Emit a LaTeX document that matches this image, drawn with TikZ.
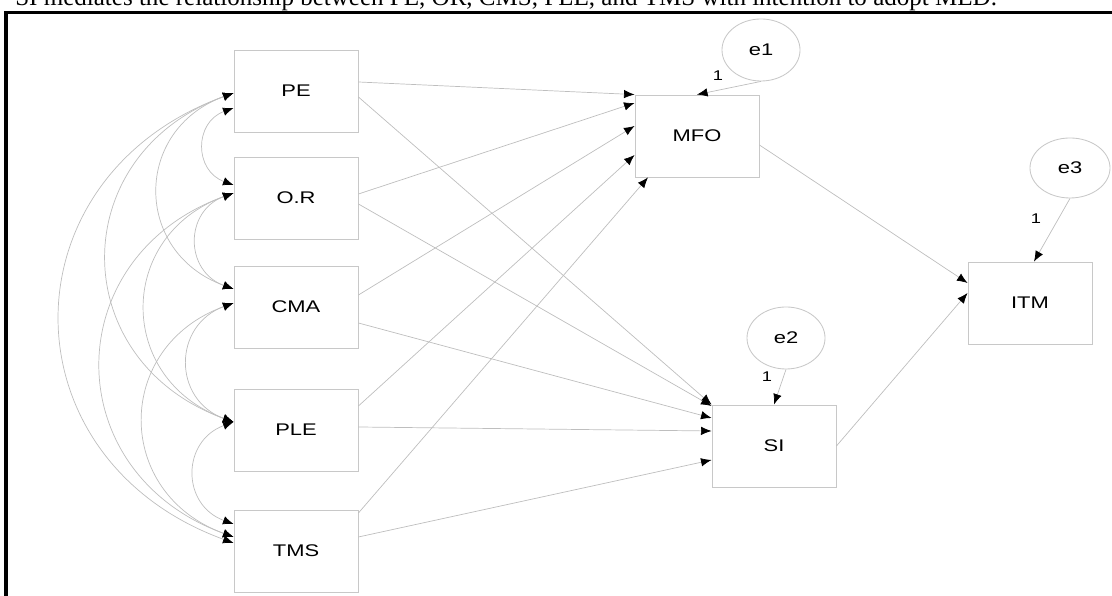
\documentclass[tikz,border=0pt]{standalone}
\usepackage{fontspec}
\setmainfont{Liberation Serif}
\newfontfamily\amosfont[FakeStretch=1.3]{Liberation Sans}
\usetikzlibrary{shapes.geometric}
\usetikzlibrary{arrows.meta}
\definecolor{lineg}{RGB}{190,190,190}
\definecolor{boxg}{RGB}{200,200,200}
\tikzset{
  var/.style={rectangle,draw=boxg,line width=0.6pt,%
    minimum width=3.1cm,minimum height=2.05cm,%
    font=\amosfont\fontsize{12}{14}\selectfont},
  err/.style={ellipse,draw=boxg,line width=0.6pt,inner sep=0pt,%
    minimum width=1.95cm,minimum height=1.55cm,%
    font=\amosfont\fontsize{12}{14}\selectfont},
  tip/.tip={Latex[length=7.5pt,width=6pt,color=black]},
  reg/.style={draw=lineg,line width=0.5pt,-tip},
  cov/.style={draw=lineg,line width=0.5pt,tip-tip,%
    bend right=70,looseness=1.4},
  wlbl/.style={font=\amosfont\fontsize{10}{11}\selectfont,inner sep=0pt},
}
\begin{document}
\begin{tikzpicture}[x=0.025cm,y=0.025cm]
  % 画像の大きさに合わせる
  \useasboundingbox (0,0) rectangle (1112,596);

  % 見出し(上半分は切れている)
  \node[anchor=base west,inner sep=0pt,font=\fontsize{17.8}{20}\selectfont] (title)
    at (15,590) {SI mediates the relationship between PE, OR, CMS, PLE, and TMS with intention to adopt MED.};
  % 枠線
  \draw[line width=0.075cm] (6,-5) -- (6,583) -- (1120,583);

  % 外生変数
  \node[var] (PE) at (296,505) {PE};
  \node[var] (OR) at (296,398) {O.R};
  \node[var] (CMA) at (296,289) {CMA};
  \node[var] (PLE) at (296,166) {PLE};
  \node[var] (TMS) at (296,45) {TMS};

  % 内生変数
  \node[var] (MFO) at (697,460) {MFO};
  \node[var] (SI) at (774,150) {SI};
  \node[var] (ITM) at (1030,293) {ITM};

  % 誤差変数
  \node[err] (e1) at (761,546) {e1};
  \node[err] (e2) at (786,258) {e2};
  \node[err,minimum width=2cm,minimum height=1.5cm] (e3) at (1070,428) {e3};
  \node[wlbl] (w1) at (718,520) {1};
  \node[wlbl] (w2) at (767,219) {1};
  \node[wlbl] (w3) at (1036,377) {1};

  % パス
  \draw[reg] ([yshift=0.225cm]PE.east) -- (MFO.north west);
  \draw[reg] ([yshift=0.1cm]OR.east) -- ([yshift=0.825cm]MFO.west);
  \draw[reg] ([yshift=0.3cm]CMA.east) -- ([yshift=0.25cm]MFO.west);
  \draw[reg] ([yshift=0.6cm]PLE.east) -- ([yshift=-0.475cm]MFO.west);
  \draw[reg] ([yshift=0.95cm]TMS.east) -- ([xshift=-1.225cm]MFO.south);
  \draw[reg] ([yshift=-0.15cm]PE.east) -- (SI.north west);
  \draw[reg] ([yshift=-0.15cm]OR.east) -- ([yshift=1.0cm]SI.west);
  \draw[reg] ([yshift=-0.4cm]CMA.east) -- ([yshift=0.7cm]SI.west);
  \draw[reg] ([yshift=0.075cm]PLE.east) -- ([yshift=0.375cm]SI.west);
  \draw[reg] ([yshift=0.35cm]TMS.east) -- ([yshift=-0.35cm]SI.west);
  \draw[reg] ([yshift=-0.225cm]MFO.east) -- ([yshift=0.5cm]ITM.west);
  \draw[reg] (SI.east) -- ([yshift=0.25cm]ITM.west);
  \draw[reg] (e1.south) -- (MFO.north);
  \draw[reg] (e2.south) -- (SI.north);
  \draw[reg] (e3.south) -- ([xshift=0.1cm]ITM.north);

  % 共分散
  \draw[cov] ([yshift=-0.425cm]PE.west) to ([yshift=0.325cm]OR.west);
  \draw[cov] ([yshift=-0.05cm]PE.west) to ([yshift=0.45cm]CMA.west);
  \draw[cov] ([yshift=-0.05cm]PE.west) to ([yshift=0.2cm]PLE.west);
  \draw[cov] ([yshift=-0.05cm]PE.west) to ([yshift=0.2cm]TMS.west);
  \draw[cov] ([yshift=0.125cm]OR.west) to ([yshift=0.45cm]CMA.west);
  \draw[cov] ([yshift=0.125cm]OR.west) to ([yshift=0.2cm]PLE.west);
  \draw[cov] ([yshift=0.125cm]OR.west) to ([yshift=0.35cm]TMS.west);
  \draw[cov] ([yshift=0.1cm]CMA.west) to ([yshift=0.2cm]PLE.west);
  \draw[cov] ([yshift=0.1cm]CMA.west) to ([yshift=0.35cm]TMS.west);
  \draw[cov] ([yshift=0.2cm]PLE.west) to ([yshift=0.675cm]TMS.west);

  % 座標確認用グリッド
  %\draw[step=100,lightgray] (0,0) grid (1112,596);
\end{tikzpicture}
\end{document}
